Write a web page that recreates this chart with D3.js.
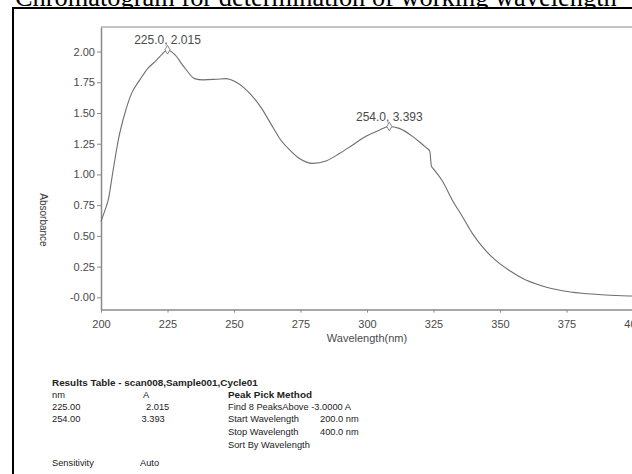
<!DOCTYPE html>
<html>
<head>
<meta charset="utf-8">
<script src="https://cdn.jsdelivr.net/npm/d3@7/dist/d3.min.js"></script>
<style>
  html, body { margin: 0; padding: 0; background: #fff; overflow: hidden; }
  svg { display: block; }
</style>
</head>
<body>
<svg id="chart" width="632" height="474"></svg>
<script>
// UV scan: wavelength (nm) against absorbance
const wavelength = [200, 201.5, 202.7, 204.6, 206.5, 209, 211.5, 214.6, 217.7, 220.9, 223, 225, 227, 228.4, 230, 232.1, 235.2, 238.4, 243.4, 247, 250, 255, 260, 265, 267.1, 270.9, 274.6, 279.6, 284.6, 289.6, 294.6, 299.6, 304.6, 308.4, 312.1, 317.1, 320, 322.1, 323.6, 324.2, 325, 328.4, 332.1, 335.9, 339.6, 343.4, 348.4, 353.4, 358.4, 365.9, 373.4, 380.9, 389.6, 398.4, 400];
const absorbance = [0.616, 0.71, 0.79, 1.04, 1.28, 1.50, 1.66, 1.77, 1.865, 1.93, 1.98, 2.015, 1.99, 1.96, 1.91, 1.85, 1.78, 1.77, 1.775, 1.78, 1.76, 1.68, 1.55, 1.37, 1.295, 1.20, 1.13, 1.09, 1.11, 1.17, 1.24, 1.31, 1.36, 1.39, 1.375, 1.31, 1.26, 1.22, 1.19, 1.07, 1.045, 0.945, 0.79, 0.656, 0.52, 0.41, 0.30, 0.22, 0.155, 0.092, 0.054, 0.033, 0.019, 0.011, 0.010];

// Picked peaks: position on the trace and the printed label
const peakNm = [225.0, 308.4];
const peakA = [2.015, 1.39];
const peakLabels = ["225.0, 2.015", "254.0, 3.393"];

const xTicks = [200, 225, 250, 275, 300, 325, 350, 375, 400];
const yTicks = [0, 0.25, 0.5, 0.75, 1.0, 1.25, 1.5, 1.75, 2.0];
const yTickLabels = ["-0.00", "0.25", "0.50", "0.75", "1.00", "1.25", "1.50", "1.75", "2.00"];

// Results table rows
const tableTitle = "Results Table - scan008,Sample001,Cycle01";
const resultNm = ["nm", "225.00", "254.00"];
const resultA = ["A", "2.015", "3.393"];
const methodLines = ["Find 8 PeaksAbove -3.0000 A", "Start Wavelength", "Stop Wavelength", "Sort By Wavelength"];
const methodValues = ["", "200.0 nm", "400.0 nm", ""];

const svg = d3.select("#chart");

// Caption above the frame (partly cut off by the page edge)
svg.append("text")
  .attr("x", 15).attr("y", 5.5)
  .attr("font-family", "Liberation Serif, Times New Roman, serif")
  .attr("font-size", 26.4)
  .attr("fill", "#000")
  .text("Chromatogram for determination of working wavelength");

// Black frame
svg.append("rect")
  .attr("x", 13).attr("y", 8)
  .attr("width", 700).attr("height", 500)
  .attr("fill", "#fff")
  .attr("stroke", "#000").attr("stroke-width", 2);

const x = d3.scaleLinear().domain([200, 400]).range([101, 633]);
const y = d3.scaleLinear().domain([-0.1, 2.2]).range([309.6, 27]);

const axisColor = "#8a8a8a";
const labelColor = "#4a4a4a";
const sans = "Liberation Sans, Arial, sans-serif";

// Plot box top edge
svg.append("line")
  .attr("x1", x(200)).attr("x2", 640)
  .attr("y1", y(2.2)).attr("y2", y(2.2))
  .attr("stroke", axisColor).attr("stroke-width", 1.2);

// X axis
const gx = svg.append("g")
  .attr("transform", `translate(0,${y(-0.1)})`)
  .call(d3.axisBottom(x).tickValues(xTicks).tickSize(3).tickPadding(8).tickSizeOuter(0));
gx.select(".domain").attr("stroke", axisColor).attr("stroke-width", 1.5);
gx.selectAll(".tick line").attr("stroke", axisColor);
gx.selectAll(".tick text").attr("fill", labelColor).attr("font-family", sans).attr("font-size", 11);

// Y axis
const gy = svg.append("g")
  .attr("transform", `translate(${x(200)},0)`)
  .call(d3.axisLeft(y).tickValues(yTicks).tickFormat((d, i) => yTickLabels[i]).tickSize(4).tickPadding(2).tickSizeOuter(0));
gy.select(".domain").attr("stroke", axisColor).attr("stroke-width", 1.5);
gy.selectAll(".tick line").attr("stroke", axisColor);
gy.selectAll(".tick text").attr("fill", labelColor).attr("font-family", sans).attr("font-size", 11);

// Axis titles
svg.append("text")
  .attr("x", x(300)).attr("y", 342)
  .attr("text-anchor", "middle")
  .attr("font-family", sans).attr("font-size", 11)
  .attr("fill", labelColor)
  .text("Wavelength(nm)");

svg.append("text")
  .attr("transform", `translate(40,${220}) rotate(90)`)
  .attr("text-anchor", "middle")
  .attr("font-family", sans).attr("font-size", 10)
  .attr("fill", "#333")
  .text("Absorbance");

// Spectrum trace
const line = d3.line()
  .x((d, i) => x(wavelength[i]))
  .y(d => y(d))
  .curve(d3.curveMonotoneX);

svg.append("path")
  .datum(absorbance)
  .attr("d", line)
  .attr("fill", "none")
  .attr("stroke", "#6e6e6e")
  .attr("stroke-width", 1.1);

// Peak markers and labels
const diamond = d3.symbol().type(d3.symbolDiamond).size(22);
peakNm.forEach((nm, i) => {
  const px = x(nm), py = y(peakA[i]);
  svg.append("path")
    .attr("d", diamond)
    .attr("transform", `translate(${px},${py})`)
    .attr("fill", "#fff")
    .attr("stroke", "#777")
    .attr("stroke-width", 0.9);
  svg.append("text")
    .attr("x", px).attr("y", py - 6)
    .attr("text-anchor", "middle")
    .attr("font-family", sans).attr("font-size", 12)
    .attr("fill", labelColor)
    .text(peakLabels[i]);
});

// Results table
const tcol = "#222";
const fsTable = 9.3;
const fsBold = 9.9;
svg.append("text")
  .attr("x", 52).attr("y", 386)
  .attr("font-family", sans).attr("font-size", fsBold).attr("font-weight", "bold")
  .attr("fill", tcol)
  .text(tableTitle);

const rowY = [397.5, 410, 422, 435, 448];
resultNm.forEach((t, i) => {
  svg.append("text").attr("x", 52).attr("y", rowY[i])
    .attr("font-family", sans).attr("font-size", fsTable).attr("fill", tcol).text(t);
});
const aX = [143, 146, 141.5];
resultA.forEach((t, i) => {
  svg.append("text").attr("x", aX[i]).attr("y", rowY[i])
    .attr("font-family", sans).attr("font-size", fsTable).attr("fill", tcol).text(t);
});

svg.append("text").attr("x", 228).attr("y", rowY[0])
  .attr("font-family", sans).attr("font-size", fsBold).attr("font-weight", "bold")
  .attr("fill", tcol).text("Peak Pick Method");

methodLines.forEach((t, i) => {
  svg.append("text").attr("x", 228).attr("y", rowY[i + 1])
    .attr("font-family", sans).attr("font-size", fsTable).attr("fill", tcol).text(t);
  if (methodValues[i]) {
    svg.append("text").attr("x", 320).attr("y", rowY[i + 1])
      .attr("font-family", sans).attr("font-size", fsTable).attr("fill", tcol).text(methodValues[i]);
  }
});

svg.append("text").attr("x", 52).attr("y", 466)
  .attr("font-family", sans).attr("font-size", fsTable).attr("fill", tcol).text("Sensitivity");
svg.append("text").attr("x", 140).attr("y", 466)
  .attr("font-family", sans).attr("font-size", fsTable).attr("fill", tcol).text("Auto");
</script>
</body>
</html>
